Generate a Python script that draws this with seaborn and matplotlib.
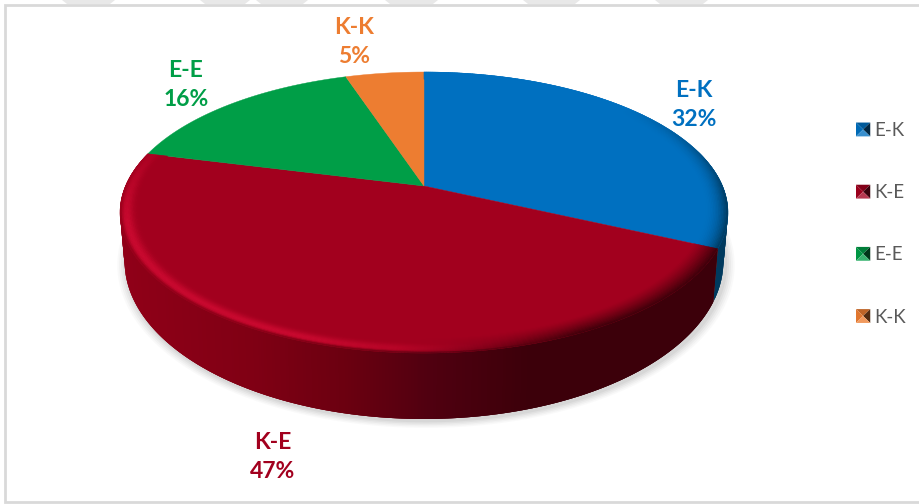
import numpy as np
import matplotlib
matplotlib.use("Agg")
import matplotlib.pyplot as plt
import seaborn as sns
from matplotlib.collections import PolyCollection
from matplotlib.colors import to_rgb
from matplotlib.legend_handler import HandlerBase
from matplotlib.patches import Patch, Polygon, Rectangle
from matplotlib.path import Path
from matplotlib.transforms import Affine2D, Transform

categories = ["E-K", "K-E", "E-E", "K-K"]
shares = [32, 47, 16, 5]
colors = ["#0070C0", "#A2001E", "#009E47", "#ED7D31"]

label_xy = [(694, 105), (273, 457), (186, 85), (354, 42)]
CX, CY = 424.0, 186.0
K = 0.1887
A_TOP, B_TOP = 298.5, 135.5
A_BOT, B_BOT, DROP = 294.0, 152.0, 45.6


def project(x, y, a=A_TOP, b=B_TOP, drop=0.0):
    w = 1 + K * y
    return CX + a * x / w, CY + drop - b * y / w


class Perspective(Transform):
    input_dims = output_dims = 2
    is_separable = False
    has_inverse = False

    def transform_non_affine(self, values):
        v = np.asarray(values, float)
        px, py = project(v[:, 0], v[:, 1])
        return np.column_stack([px, py])

    def transform_path_non_affine(self, path):
        polys = path.transformed(Affine2D().scale(2000)).to_polygons(closed_only=False)
        return Path(self.transform_non_affine(np.concatenate(polys) / 2000))


sns.set_theme(style="white")
plt.rcParams["font.family"] = ["Lato", "DejaVu Sans"]
fig = plt.figure(figsize=(9.2, 5.04), dpi=100, facecolor="white")
ax = fig.add_axes([0, 0, 1, 1])

wedges, _ = ax.pie(shares, colors=colors, startangle=90, counterclock=False, radius=1.0,
                   wedgeprops=dict(linewidth=0.3, zorder=5))
persp = Perspective()
for w, c in zip(wedges, colors):
    w.set_transform(persp + ax.transData)
    w.set_edgecolor(c)
ax.set_aspect("auto")
ax.set_xlim(0, 920)
ax.set_ylim(504, 0)
ax.axis("off")

# frame and tab marks of the screenshot
ax.add_patch(Rectangle((5, 5), 930, 497, fc="white", ec="#D9D9D9", lw=2, zorder=0))
for x0, x1 in [(62, 115), (200, 250), (256, 308), (385, 438), (523, 580), (655, 708)]:
    ax.add_patch(Polygon([(x0, 0), (x1, 0), (x1 - 5, 4), (x0 + 5, 4)], fc="#E8E8E8", ec="none", zorder=0))

# soft shadow round the bottom rim
t_all = np.radians(np.linspace(0, 360, 361))
for grow, alpha in zip([1.030, 1.024, 1.018, 1.012, 1.006], [0.05, 0.07, 0.09, 0.11, 0.13]):
    sx, sy = project(grow * np.cos(t_all), grow * np.sin(t_all), A_BOT, B_BOT, DROP + 2)
    ax.fill(sx + 2, sy, color="#9A9A9A", alpha=alpha, lw=0, zorder=1)


def side_color(i, x):
    if i == 0:
        return np.array(to_rgb("#003A5E"))
    stops = np.array([120, 250, 350, 430, 530])
    pal = np.array([to_rgb(c) for c in ["#900018", "#800014", "#6A0010", "#500010", "#3C000A"]])
    return np.array([np.interp(x, stops, pal[:, j]) for j in range(3)])


# side wall, drawn from the slices' own angles; each strip overlaps the next so no seams show
for i, w in enumerate(wedges[:2]):
    th = np.linspace(w.theta1, w.theta2, max(int(w.theta2 - w.theta1) * 2, 2))
    for n, (a0, a1) in enumerate(zip(th[:-1], th[1:])):
        end = th[min(n + 3, len(th) - 1)]
        r0, r1 = np.radians([a0, end])
        if min(np.sin(r0), np.sin(r1)) > 0.25:
            continue
        arc = np.radians(np.linspace(a0, end, 4))
        tx, ty = project(np.cos(arc), np.sin(arc))
        bx, by = project(np.cos(arc), np.sin(arc), A_BOT, B_BOT, DROP)
        col = side_color(i, (tx[0] + tx[1]) / 2)
        ax.fill(np.r_[tx, bx[::-1]], np.r_[ty, by[::-1]], color=col, lw=0, zorder=3)

# bevel on the top face
PEAK = np.array(to_rgb("#CA0A30"))
rings = np.linspace(0.925, 1.0, 16)
polys, cols = [], []
for i, w in enumerate(wedges[:2]):
    base = np.array(to_rgb(colors[i]))
    th = np.linspace(w.theta1, w.theta2, max(int(w.theta2 - w.theta1) * 2, 2))
    for a0, a1 in zip(th[:-1], th[1:]):
        am = np.radians((a0 + a1) / 2)
        r0, r1 = np.radians([a0, a1])
        for q0, q1 in zip(rings[:-1], rings[1:]):
            t = ((q0 + q1) / 2 - rings[0]) / (rings[-1] - rings[0])
            px0, py0 = project(q0 * np.cos(r0), q0 * np.sin(r0))
            px1, py1 = project(q1 * np.cos(r0), q1 * np.sin(r0))
            px2, py2 = project(q1 * np.cos(r1), q1 * np.sin(r1))
            px3, py3 = project(q0 * np.cos(r1), q0 * np.sin(r1))
            xm = (px0 + px2) / 2
            side = side_color(i, xm)
            if i == 0:
                deg = (np.degrees(am) + 180) % 360 - 180
                weight = np.interp(deg, [-30, -5, 40], [1, 1, 0])
                m = weight * t ** 2.2
                col = base + m * (side - base)
            else:
                upper = np.interp(np.sin(am), [-0.25, 0.2], [1, 0])
                h = np.interp(xm, [130, 300, 440, 530], [1, 1, 0.35, 0]) * (0.35 + 0.65 * upper)
                d = np.interp(xm, [400, 580], [0, 1])
                bump = np.exp(-((t - 0.72) / 0.28) ** 2)
                col = base + h * bump * (PEAK - base)
                m = max(upper * np.clip((t - 0.82) / 0.18, 0, 1) ** 1.5, d * t ** 1.3)
                col = col + m * (side - col)
            polys.append([(px0, py0), (px1, py1), (px2, py2), (px3, py3)])
            cols.append(col)
ax.add_collection(PolyCollection(polys, facecolors=cols, edgecolors=cols, linewidths=0.3, zorder=6))

# data labels
for name, share, c, (tx, ty) in zip(categories, shares, colors, label_xy):
    ax.text(tx, ty, f"{name}\n{share}%", color=c, fontsize=16.5, fontweight="bold",
            ha="center", va="center", linespacing=1.42, zorder=8)


class PyramidHandler(HandlerBase):
    def create_artists(self, legend, orig, xd, yd, width, height, fontsize, trans):
        base = np.array(to_rgb(orig.get_facecolor()))
        x0, y0, x1, y1 = -xd, -yd, -xd + width, -yd + height
        mid = ((x0 + x1) / 2, (y0 + y1) / 2)
        faces = [
            ([(x0, y1), (x1, y1), mid], base * 0.8),
            ([(x0, y0), (x0, y1), mid], base * 0.95),
            ([(x1, y0), (x1, y1), mid], base * 0.35),
            ([(x0, y0), (x1, y0), mid], base + (1 - base) * 0.22),
        ]
        return [Polygon(p, fc=c, ec="none", transform=trans) for p, c in faces]


handles = [Patch(facecolor=c, label=n) for n, c in zip(categories, colors)]
leg = ax.legend(handles=handles, loc="upper left", bbox_to_anchor=(856 / 920, 1 - 122 / 504),
                frameon=False, fontsize=13.5, labelcolor="#595959", borderpad=0, borderaxespad=0,
                handlelength=0.76, handleheight=0.76, handletextpad=0.24, labelspacing=2.41,
                handler_map={Patch: PyramidHandler()})
leg.set_zorder(9)

fig.savefig("out.png", dpi=100)
